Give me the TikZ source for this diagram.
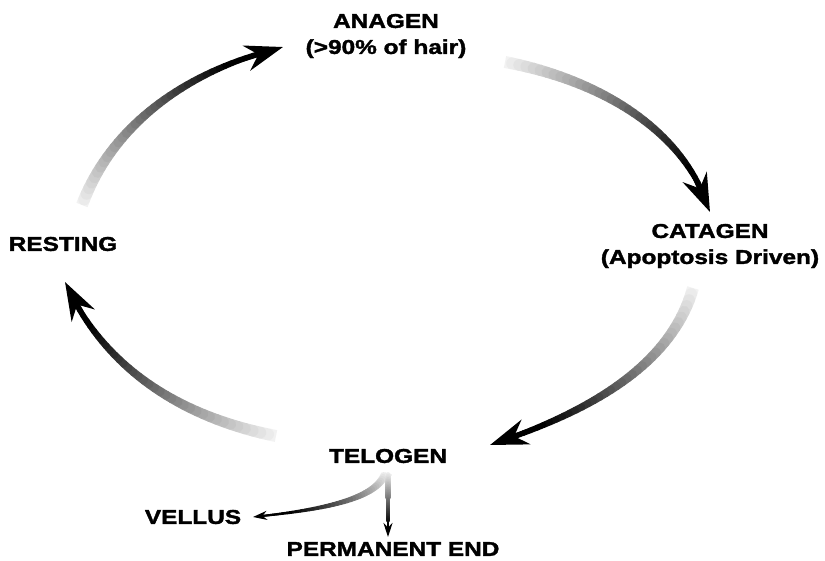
\documentclass[tikz,border=0pt]{standalone}
\usepackage{fontspec}
\setmainfont{Liberation Sans}[FakeStretch=1.22, BoldFeatures={FakeBold=1.8}]
\usetikzlibrary{arrows.meta}
% #1-#4 bezier points, #5 prefix, #6 tail width, #7 end width, #8 head length, #9 head width
\newcommand\gradarrow[9]{%
  \foreach \i in {0,...,40}{\path #1 .. controls #2 and #3 .. #4 coordinate[pos=\i/40] (#5\i);}%
  \foreach \i in {0,...,37}{%
    \pgfmathtruncatemacro\j{\i+1}%
    \pgfmathsetmacro\g{min(100,5+\i*95/32)}%
    \pgfmathsetmacro\w{#6-(#6-#7)*\i/37}%
    \ifnum\i=0 \def\capstyle{butt}\else\def\capstyle{round}\fi
    \draw[line width=\w pt, black!\g, line cap=\capstyle] (#5\i) -- (#5\j);}%
  \path[draw=black, line width=#7pt, -{Stealth[length=#8pt,width=#9pt]}] (#534) -- (#540);%
}
\tikzset{lbl/.style={font=\bfseries\fontsize{20pt}{26pt}\selectfont, align=center, inner sep=0pt}}
\begin{document}
\begin{tikzpicture}[x=1pt,y=-1pt]
\useasboundingbox (0,0) rectangle (825,560);
\node[lbl] (anagen) at (386,36) {ANAGEN\\(>90\% of hair)};
\node[lbl] (catagen) at (710,246) {CATAGEN\\(Apoptosis Driven)};
\node[lbl] (resting) at (63,244) {RESTING};
\node[lbl] (telogen) at (388,456) {TELOGEN};
\node[lbl] (vellus) at (193,517) {VELLUS};
\node[lbl] (permanent) at (393,549) {PERMANENT END};
\gradarrow{(82,205)}{(110,130)}{(180,72)}{(283,47)}{a}{12}{5}{38}{26}
\gradarrow{(505,62)}{(600,80)}{(685,130)}{(710,212)}{b}{12}{5}{38}{26}
\gradarrow{(693,288)}{(670,370)}{(580,415)}{(490,445)}{c}{12}{5}{38}{26}
\gradarrow{(276,436)}{(170,415)}{(100,360)}{(65,282)}{d}{12}{5}{38}{26}
\gradarrow{(385,474)}{(375,500)}{(320,510)}{(253,517)}{e}{8}{2}{14}{9}
\gradarrow{(388,474)}{(388,495)}{(388,515)}{(388,537)}{f}{7}{2}{14}{9}
\end{tikzpicture}
\end{document}
